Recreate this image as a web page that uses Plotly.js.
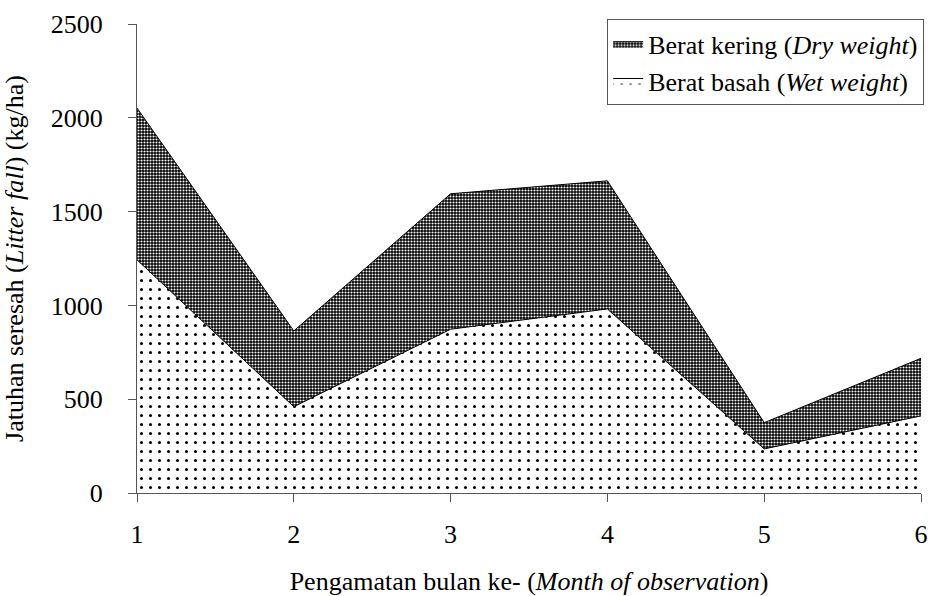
<!DOCTYPE html>
<html>
<head>
<meta charset="utf-8">
<script src="https://cdn.plot.ly/plotly-3.0.1.min.js"></script>
<style>html,body{margin:0;padding:0;background:#fff}#chart{width:933px;height:596px}</style>
</head>
<body>
<div id="chart"></div>
<script>
const months = [1, 2, 3, 4, 5, 6];
const wetWeight = [1243, 460, 873, 981, 235, 411];
const dryWeight = [809, 404, 722, 683, 140, 307];
const yTicks = [0, 500, 1000, 1500, 2000, 2500];

const font = 'Times New Roman, Liberation Serif, serif';
const fs = 26;

const traces = [
  {
    x: months, y: wetWeight, type: 'scatter', mode: 'lines',
    name: 'Berat basah (<i>Wet weight</i>)',
    stackgroup: 'one',
    line: {color: '#000', width: 1},
    fillcolor: '#fff',
    fillpattern: {shape: '.', fgcolor: '#000', bgcolor: '#fff', size: 9, solidity: 0.09}
  },
  {
    x: months, y: dryWeight, type: 'scatter', mode: 'lines',
    name: 'Berat kering (<i>Dry weight</i>)',
    stackgroup: 'one',
    line: {color: '#000', width: 1},
    fillcolor: '#000',
    fillpattern: {shape: '.', fgcolor: '#fff', bgcolor: '#000', size: 3, solidity: 0.38}
  }
];

const layout = {
  width: 933, height: 596,
  margin: {l: 137, r: 9, t: 24, b: 103},
  paper_bgcolor: '#fff', plot_bgcolor: '#fff',
  font: {family: font, size: fs, color: '#000'},
  showlegend: true,
  legend: {
    x: 1.004, xanchor: 'right', y: 1.01, yanchor: 'top',
    traceorder: 'reversed',
    bordercolor: '#555', borderwidth: 1, bgcolor: '#fff',
    font: {family: font, size: fs, color: '#000'},
    itemwidth: 30,
    tracegroupgap: 0
  },
  xaxis: {
    range: [1, 6], tickvals: months, ticktext: months.map(String),
    showgrid: false, zeroline: false,
    showline: true, linecolor: '#555', linewidth: 1,
    ticks: 'outside', ticklen: 8, tickcolor: '#555',
    ticklabelstandoff: 10, ticklabeloverflow: 'allow',
    tickfont: {family: font, size: fs, color: '#000'},
    title: {text: 'Pengamatan bulan ke- (<i>Month of observation</i>)', font: {family: font, size: fs, color: '#000'}, standoff: 30}
  },
  yaxis: {
    range: [0, 2500], tickvals: yTicks, ticktext: yTicks.map(String),
    showgrid: false, zeroline: false,
    showline: true, linecolor: '#555', linewidth: 1,
    ticks: 'outside', ticklen: 8, tickcolor: '#555',
    ticklabelstandoff: 20,
    tickfont: {family: font, size: fs, color: '#000'},
    title: {text: 'Jatuhan seresah (<i>Litter fall</i>) (kg/ha)', font: {family: font, size: fs, color: '#000'}, standoff: 22}
  }
};

Plotly.newPlot('chart', traces, layout, {displayModeBar: false, staticPlot: true});
</script>
</body>
</html>
